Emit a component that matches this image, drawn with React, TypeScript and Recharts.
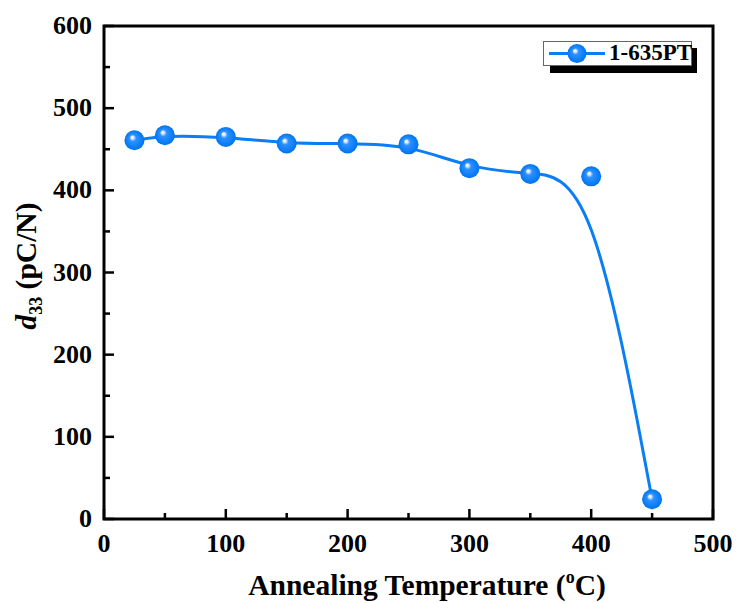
import React from 'react';
import { LineChart, Line, XAxis, YAxis, ReferenceArea, Legend, Label } from 'recharts';

const temps = [25, 50, 100, 150, 200, 250, 300, 350, 400, 450];
const d33 = [461, 467, 465, 457, 457, 456, 427, 420, 417, 24];
const xTicks = [0, 50, 100, 150, 200, 250, 300, 350, 400, 450, 500];
const yTicks = [0, 50, 100, 150, 200, 250, 300, 350, 400, 450, 500, 550, 600];
const seriesName = '1-635PT';

const data = temps.map((t, i) => ({ t, v: d33[i] }));

const FONT = "'Liberation Serif', 'Times New Roman', serif";
const BLUE = '#0A7EF4';

const BallDefs = ({ id }: { id: string }) => (
  <defs>
    <radialGradient id={id} cx="0.5" cy="0.5" r="0.5" fx="0.38" fy="0.34">
      <stop offset="0" stopColor="#ffffff" />
      <stop offset="0.14" stopColor="#d8ecff" />
      <stop offset="0.34" stopColor="#2f90ff" />
      <stop offset="0.8" stopColor="#0a7ef7" />
      <stop offset="1" stopColor="#0572ea" />
    </radialGradient>
  </defs>
);

const Dot = (props: any) => {
  const { cx, cy, index } = props;
  if (cx == null || cy == null) return null;
  const id = `ball-${index}`;
  return (
    <g key={id}>
      <BallDefs id={id} />
      <circle cx={cx} cy={cy} r={10} fill={`url(#${id})`} />
    </g>
  );
};

const XTick = (props: any) => {
  const { x, y, payload } = props;
  const v = payload.value;
  const major = v % 100 === 0;
  return (
    <g>
      <line x1={x} x2={x} y1={y} y2={y - (major ? 10 : 6)} stroke="#000" strokeWidth={2.5} />
      {major && (
        <text x={x} y={y + 33} textAnchor="middle" fontFamily={FONT} fontWeight="bold" fontSize={26} fill="#000">
          {v}
        </text>
      )}
    </g>
  );
};

const YTick = (props: any) => {
  const { x, y, payload } = props;
  const v = payload.value;
  const major = v % 100 === 0;
  return (
    <g>
      <line x1={x} x2={x + (major ? 10 : 6)} y1={y} y2={y} stroke="#000" strokeWidth={2.5} />
      {major && (
        <text x={x - 12} y={y + 8} textAnchor="end" fontFamily={FONT} fontWeight="bold" fontSize={26} fill="#000">
          {v}
        </text>
      )}
    </g>
  );
};

const LegendBox = () => (
  <div style={{ position: 'relative', width: 156, height: 34 }}>
    <div style={{ position: 'absolute', left: 7, top: 7, width: 147, height: 25, background: '#000' }} />
    <div
      style={{
        position: 'absolute',
        left: 0,
        top: 0,
        width: 147,
        height: 23,
        background: '#fff',
        border: '1px solid #666',
      }}
    >
      <svg width={60} height={23} style={{ position: 'absolute', left: 3, top: 0 }}>
        <BallDefs id="ball-legend" />
        <line x1={2} x2={58} y1={11.5} y2={11.5} stroke={BLUE} strokeWidth={3} />
        <circle cx={30} cy={11.5} r={9.5} fill="url(#ball-legend)" />
      </svg>
      <span
        style={{
          position: 'absolute',
          left: 65,
          top: -3,
          fontFamily: FONT,
          fontWeight: 'bold',
          fontSize: 23,
          lineHeight: '28px',
          color: '#000',
          whiteSpace: 'nowrap',
        }}
      >
        {seriesName}
      </span>
    </div>
  </div>
);

export default function App() {
  return (
    <div style={{ position: 'absolute', left: 0, top: 0, background: '#fff' }}>
      <LineChart width={737} height={603} data={data} margin={{ top: 26, right: 24, bottom: 0, left: 0 }}>
        <XAxis
          dataKey="t"
          type="number"
          domain={[0, 500]}
          ticks={xTicks}
          interval={0}
          tickSize={0}
          tickMargin={0}
          axisLine={false}
          tickLine={false}
          tick={<XTick />}
          height={84}
        >
          <Label
            content={() => (
              <text x={427} y={595} textAnchor="middle" fontFamily={FONT} fontWeight="bold" fontSize={29.5} fill="#000">
                Annealing Temperature (
                <tspan fontSize={18} dy={-12}>o</tspan>
                <tspan dy={12}>C)</tspan>
              </text>
            )}
          />
        </XAxis>
        <YAxis
          type="number"
          domain={[0, 600]}
          ticks={yTicks}
          interval={0}
          tickSize={0}
          tickMargin={0}
          axisLine={false}
          tickLine={false}
          tick={<YTick />}
          width={104}
        >
          <Label
            content={() => (
              <text
                x={36}
                y={266}
                transform="rotate(-90, 36, 266)"
                textAnchor="middle"
                fontFamily={FONT}
                fontWeight="bold"
                fontSize={29.5}
                fill="#000"
              >
                <tspan fontStyle="italic">d</tspan>
                <tspan fontSize={18} dy={6}>33</tspan>
                <tspan dy={-6}> (pC/N)</tspan>
              </text>
            )}
          />
        </YAxis>
        <ReferenceArea x1={0} x2={500} y1={0} y2={600} fill="none" stroke="#000" strokeWidth={3} ifOverflow="visible" />
        <Line
          type="basis"
          dataKey="v"
          name={seriesName}
          stroke={BLUE}
          strokeWidth={3}
          dot={<Dot />}
          activeDot={false}
          isAnimationActive={false}
        />
        <Legend
          layout="horizontal"
          verticalAlign="middle"
          align="center"
          content={() => <LegendBox />}
          wrapperStyle={{ left: 543, top: 41, width: 160, height: 34 }}
        />
      </LineChart>
    </div>
  );
}
